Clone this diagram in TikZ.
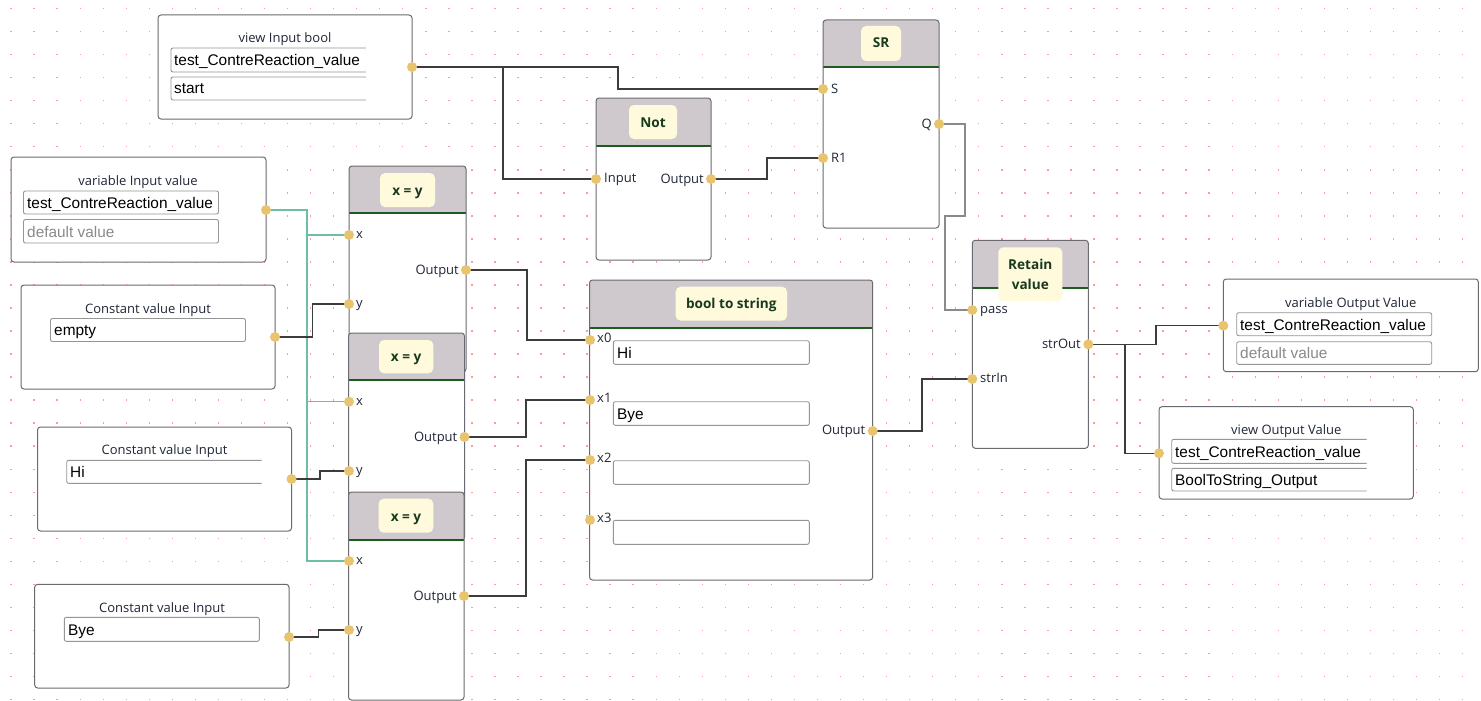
\documentclass[tikz,border=0pt]{standalone}
\usepackage{fontspec}
\setmainfont{Open Sans}
\newfontfamily\fld{Liberation Sans}
\definecolor{dotc}{HTML}{FF9A9A}
\definecolor{boxc}{HTML}{6A6A70}
\definecolor{hdrc}{HTML}{CFC9CD}
\definecolor{grnc}{HTML}{1E5A1E}
\definecolor{chipc}{HTML}{FFFADC}
\definecolor{chiptc}{HTML}{173A1F}
\definecolor{labc}{HTML}{1F2635}
\definecolor{fieldc}{HTML}{959595}
\definecolor{portc}{HTML}{E8C46E}
\definecolor{wirec}{HTML}{3C3C3C}
\definecolor{wiregc}{HTML}{8A8A8A}
\definecolor{tealc}{HTML}{6CBFA0}
\definecolor{grayt}{HTML}{8A8A8A}
\newcommand\fbbox[4]{\draw[boxc,fill=white,line width=1pt,rounded corners=3pt] (#1,#2) rectangle (#3,#4);}
\newcommand\fbblock[5]{%
  \fill[white,rounded corners=3pt] (#1,#2) rectangle (#3,#4);
  \begin{scope}\clip[rounded corners=3pt] (#1,#2) rectangle (#3,#4);
  \fill[hdrc] (#1,#2) rectangle (#3,#5);\end{scope}
  \draw[grnc,line width=2pt] (#1,#5) -- (#3,#5);
  \draw[boxc,line width=1pt,rounded corners=3pt] (#1,#2) rectangle (#3,#4);}
\newcommand\fbfield[4]{\draw[fieldc,line width=0.9pt,rounded corners=2pt] (#1,#2) rectangle (#3,#4);}
\newcommand\fbofield[4]{\draw[fieldc,line width=0.9pt,rounded corners=2pt] (#3,#2) -- (#1,#2) -- (#1,#4) -- (#3,#4);}
\newcommand\fbchip[4]{\fill[chipc,rounded corners=5pt] (#1,#2) rectangle (#3,#4);}
\begin{document}
\begin{tikzpicture}[x=1pt,y=-1pt,
  lbl/.style={font=\fontsize{13}{15}\selectfont,text=labc,inner sep=0pt},
  ttl/.style={lbl,anchor=base},
  plw/.style={lbl,anchor=base west},
  ple/.style={lbl,anchor=base east},
  ftxt/.style={font=\fld\fontsize{15.4}{17}\selectfont,anchor=base west,inner sep=0pt,text=black},
  gtxt/.style={ftxt,text=grayt},
  ctxt/.style={font=\bfseries\fontsize{13.6}{15}\selectfont,text=chiptc,inner sep=0pt,anchor=base},
  wire/.style={wirec,line width=1.2pt},
  wireg/.style={wiregc,line width=1.6pt},
  twire/.style={tealc,line width=1.3pt}]
\useasboundingbox (0,0) rectangle (1481,701);
\fill[white] (0,0) rectangle (1481,701);
\foreach \i in {0,...,63}{\foreach \j in {0,...,30}{\fill[dotc] (10.4+23.04*\i,7.9+23.03*\j) rectangle ++(1.4,1.4);}}
% ---------- view Input bool
\fbbox{158}{15}{412}{119}
\node[ttl] (t-vib) at (285,42.5) {view Input bool};
\fbofield{171}{48}{366}{72}\fbofield{171}{77}{366}{100}
\node[ftxt] (f-vib1) at (174,65.5) {test\_ContreReaction\_value};
\node[ftxt] (f-vib2) at (174,94) {start};
\coordinate (vib) at (412,67);
% ---------- SR
\fbblock{823}{20}{939}{228}{67}
\fbchip{861}{26}{901}{61}
\node[ctxt] (t-sr) at (881,48) {SR};
\coordinate (srS) at (823,89);\coordinate (srR) at (823,158);\coordinate (srQ) at (939,124);
\node[plw] (l-srS) at (831,93.5) {S};
\node[plw] (l-srR) at (831,162.5) {R1};
\node[ple] (l-srQ) at (932,128.5) {Q};
% ---------- Not
\fbblock{596}{98}{711}{260}{146}
\fbchip{629}{105}{677}{139}
\node[ctxt] (t-not) at (653,127) {Not};
\coordinate (notI) at (596,179);\coordinate (notO) at (711,179);
\node[plw] (l-notI) at (604,182.5) {Input};
\node[ple] (l-notO) at (704,183.5) {Output};
% ---------- variable Input value
\fbbox{11}{157}{266}{262}
\node[ttl] (t-viv) at (138,185) {variable Input value};
\fbfield{23.5}{191}{218.5}{214}\fbfield{23.5}{219.5}{218.5}{243}
\node[ftxt] (f-viv1) at (27,208) {test\_ContreReaction\_value};
\node[gtxt] (f-viv2) at (27,237) {default value};
\coordinate (viv) at (266,210);
% ---------- Constant empty
\fbbox{21}{285}{275}{389}
\node[ttl] (t-ce) at (148,313) {Constant value Input};
\fbfield{50.5}{318.5}{245.5}{341.5}
\node[ftxt] (f-ce) at (54,335.5) {empty};
\coordinate (ce) at (275,337);
% ---------- Constant Hi
\fbbox{37.5}{427}{291.5}{531}
\node[ttl] (t-chi) at (164.5,454) {Constant value Input};
\fbofield{66.7}{460.3}{261.7}{483.3}
\node[ftxt] (f-chi) at (70,477.3) {Hi};
\coordinate (chi) at (291.5,479);
% ---------- Constant Bye
\fbbox{34.7}{584.3}{289}{688}
\node[ttl] (t-cby) at (162,612) {Constant value Input};
\fbfield{64.3}{617.3}{259.3}{641.3}
\node[ftxt] (f-cby) at (68,635) {Bye};
\coordinate (cby) at (289,637);
% ---------- x = y blocks
\fbblock{349}{166}{466}{372}{213}
\fbchip{380}{173}{435}{207}
\node[ctxt] (t-xy1) at (407.5,195) {x = y};
\coordinate (xy1x) at (349,235);\coordinate (xy1y) at (349,304);\coordinate (xy1o) at (466,270);
\node[plw] (l-xy1x) at (356,238.5) {x};
\node[plw] (l-xy1y) at (356,307.5) {y};
\node[ple] (l-xy1o) at (459,274.5) {Output};
\fbblock{348.5}{333}{464.5}{540}{380}
\fbchip{379}{340}{433.3}{373.3}
\node[ctxt] (t-xy2) at (406.2,361.5) {x = y};
\coordinate (xy2x) at (349,401.7);\coordinate (xy2y) at (349,471);\coordinate (xy2o) at (464.5,437);
\node[plw] (l-xy2x) at (356,405) {x};
\node[plw] (l-xy2y) at (356,474.5) {y};
\node[ple] (l-xy2o) at (457.5,441.5) {Output};
\fbblock{348.5}{492}{464}{700}{540}
\fbchip{378.7}{498.7}{433.3}{532.7}
\node[ctxt] (t-xy3) at (406,521) {x = y};
\coordinate (xy3x) at (349,561);\coordinate (xy3y) at (349,630);\coordinate (xy3o) at (464,596);
\node[plw] (l-xy3x) at (356,564.5) {x};
\node[plw] (l-xy3y) at (356,633.5) {y};
\node[ple] (l-xy3o) at (457,600.5) {Output};
% ---------- bool to string
\fbblock{589.5}{280}{872.7}{580}{328}
\fbchip{675.7}{286.7}{787}{320.7}
\node[ctxt] (t-b2s) at (731.3,308.5) {bool to string};
\fbfield{613.3}{340.7}{809.3}{364.3}\fbfield{613.3}{401.7}{809.3}{425.3}
\fbfield{613.3}{460.7}{809.3}{484.3}\fbfield{613.3}{520.3}{809.3}{544.3}
\node[ftxt] (f-b2s0) at (617,358) {Hi};
\node[ftxt] (f-b2s1) at (617,419) {Bye};
\coordinate (b2s0) at (590,340);\coordinate (b2s1) at (590,400);
\coordinate (b2s2) at (590,460);\coordinate (b2s3) at (590,520);
\coordinate (b2so) at (872.7,431);
\node[plw] (l-b2s0) at (597,342) {x0};
\node[plw] (l-b2s1) at (597,402) {x1};
\node[plw] (l-b2s2) at (597,462) {x2};
\node[plw] (l-b2s3) at (597,522) {x3};
\node[ple] (l-b2so) at (865.5,434.5) {Output};
% ---------- Retain value
\fbblock{972.3}{240.3}{1088.3}{448.3}{288.3}
\fbchip{998.3}{247.3}{1062.3}{301}
\node[ctxt] (t-rv1) at (1030.3,269) {Retain};
\node[ctxt] (t-rv2) at (1030.3,289.7) {value};
\coordinate (rvp) at (972.3,310);\coordinate (rvs) at (972.3,379);\coordinate (rvo) at (1088.3,344.3);
\node[plw] (l-rvp) at (980,313.5) {pass};
\node[plw] (l-rvs) at (980,382.5) {strIn};
\node[ple] (l-rvo) at (1081,348.5) {strOut};
% ---------- variable Output Value
\fbbox{1223.3}{279}{1478.3}{371.7}
\node[ttl] (t-vov) at (1350.8,307) {variable Output Value};
\fbfield{1236.7}{312.7}{1431.7}{335.7}\fbfield{1236.7}{341.7}{1431.7}{364.3}
\node[ftxt] (f-vov1) at (1240,330) {test\_ContreReaction\_value};
\node[gtxt] (f-vov2) at (1240,358.5) {default value};
\coordinate (vov) at (1223.3,325.7);
% ---------- view Output Value
\fbbox{1159}{406.7}{1413.3}{499}
\node[ttl] (t-vwo) at (1286.3,434) {view Output Value};
\fbofield{1171.7}{439.3}{1366.7}{463.3}\fbofield{1171.7}{468.3}{1366.7}{491}
\node[ftxt] (f-vwo1) at (1175,457) {test\_ContreReaction\_value};
\node[ftxt] (f-vwo2) at (1175,485.8) {BoolToString\_Output};
\coordinate (vwo) at (1159,453.3);
% ---------- connectors
\coordinate (j1) at (503,67);
\coordinate (j2) at (307,210);
\coordinate (j3) at (1125,344.3);
\draw[wire] (vib) -- (618,67) |- (srS);
\draw[wire] (j1) |- (notI);
\draw[wire] (notO) -- (767,179) |- (srR);
\draw[wireg] (srQ) -- (965,124) -- (965,216) -- (945,216) |- (rvp);
\draw[twire] (viv) -- (j2) |- (xy1x);
\draw[twire] (j2) |- (xy2x);
\draw[twire] (j2) |- (xy3x);
\draw[wire] (ce) -- (312.7,337) |- (xy1y);
\draw[wire] (chi) -- (320,479) |- (xy2y);
\draw[wire] (cby) -- (318.3,637) |- (xy3y);
\draw[wire] (xy1o) -- (527,270) |- (b2s0);
\draw[wire] (xy2o) -- (526,437) |- (b2s1);
\draw[wire] (xy3o) -- (526,596) |- (b2s2);
\draw[wire] (b2so) -- (922,431) |- (rvs);
\draw[wire] (rvo) -- (1156,344.3) |- (vov);
\draw[wire] (j3) |- (vwo);
% ---------- ports
\foreach \p in {vib,srS,srR,srQ,notI,notO,viv,ce,chi,cby,xy1x,xy1y,xy1o,xy2x,xy2y,xy2o,xy3x,xy3y,xy3o,b2s0,b2s1,b2s2,b2s3,b2so,rvp,rvs,rvo,vov,vwo}{\fill[portc] (\p) circle (5);}
\end{tikzpicture}
\end{document}
